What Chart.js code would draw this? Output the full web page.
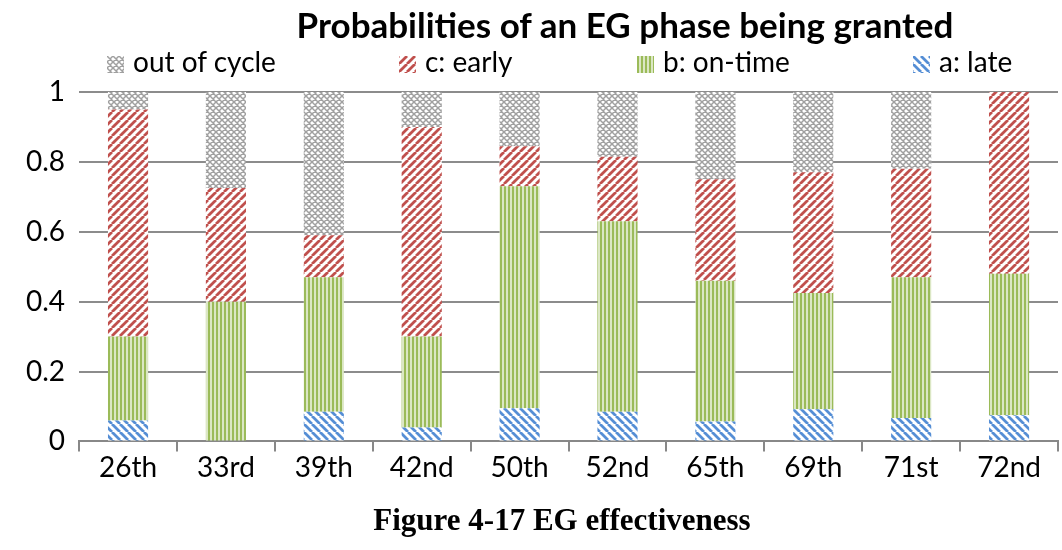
<!DOCTYPE html>
<html>
<head>
<meta charset="utf-8">
<script src="https://cdn.jsdelivr.net/npm/chart.js@4"></script>
<style>
  html, body { margin: 0; padding: 0; background: #fff; }
  #wrap { position: relative; width: 1062px; height: 550px; }
  #title { position: absolute; left: 225px; width: 800px; top: 3px; text-align: center;
    font: bold 35px Lato, sans-serif; color: #000; white-space: nowrap; }
  #caption { position: absolute; left: 262px; width: 600px; top: 502px; text-align: center;
    font: bold 31px "Liberation Serif", serif; color: #000; }
  .leg { position: absolute; top: 44px; font: 28px Lato, sans-serif; color: #000; white-space: nowrap; }
  .leg span { display: inline-block; width: 17px; height: 17px; margin-right: 9px; vertical-align: -1px; }
</style>
</head>
<body>
<div id="wrap">
  <canvas id="myChart" width="1062" height="550"></canvas>
  <div id="title">Probabilities of an EG phase being granted</div>
  <div id="legend"></div>
  <div id="caption">Figure 4-17 EG effectiveness</div>
</div>
<script>
var categories = ["26th", "33rd", "39th", "42nd", "50th", "52nd", "65th", "69th", "71st", "72nd"];

// stacked segments, bottom to top
var late = [0.06, 0, 0.085, 0.04, 0.095, 0.085, 0.057, 0.092, 0.067, 0.075];
var onTime = [0.24, 0.40, 0.385, 0.26, 0.635, 0.545, 0.403, 0.333, 0.403, 0.405];
var early = [0.65, 0.325, 0.12, 0.60, 0.115, 0.185, 0.29, 0.345, 0.31, 0.52];
var outOfCycle = [0.05, 0.275, 0.41, 0.10, 0.155, 0.185, 0.25, 0.23, 0.22, 0];

function makeTile(size, draw) {
  var c = document.createElement("canvas");
  c.width = size;
  c.height = size;
  var ctx = c.getContext("2d");
  ctx.fillStyle = "#fff";
  ctx.fillRect(0, 0, size, size);
  draw(ctx, size);
  return c;
}

function diag(color, up) {
  return makeTile(8, function (ctx, s) {
    ctx.strokeStyle = color;
    ctx.lineWidth = 2.8;
    ctx.beginPath();
    for (var k = -1; k <= 1; k++) {
      if (up) {
        ctx.moveTo(k * s, s);
        ctx.lineTo(k * s + s, 0);
      } else {
        ctx.moveTo(k * s, 0);
        ctx.lineTo(k * s + s, s);
      }
    }
    ctx.stroke();
  });
}

var tiles = {
  red: diag("#c0504d", true),
  blue: diag("#558ed5", false),
  green: makeTile(4, function (ctx, s) {
    ctx.fillStyle = "#dbe7c4";
    ctx.fillRect(0, 0, s, s);
    ctx.fillStyle = "#9bbb59";
    ctx.fillRect(0, 0, 2, s);
  }),
  gray: makeTile(6, function (ctx, s) {
    ctx.strokeStyle = "#a0a0a0";
    ctx.lineWidth = 1.5;
    ctx.beginPath();
    for (var k = -1; k <= 1; k++) {
      ctx.moveTo(k * s, 0);
      ctx.lineTo(k * s + s, s);
      ctx.moveTo(k * s, s);
      ctx.lineTo(k * s + s, 0);
    }
    ctx.stroke();
  }),
};

var mainCtx = document.getElementById("myChart").getContext("2d");
function pattern(name) {
  return mainCtx.createPattern(tiles[name], "repeat");
}

// legend in the same order and spread as the original
var legendItems = [
  { label: "out of cycle", tile: "gray", left: 107 },
  { label: "c: early", tile: "red", left: 399 },
  { label: "b: on-time", tile: "green", left: 637 },
  { label: "a: late", tile: "blue", left: 913 },
];
var legendDiv = document.getElementById("legend");
legendItems.forEach(function (it) {
  var d = document.createElement("div");
  d.className = "leg";
  d.style.left = it.left + "px";
  var sw = document.createElement("span");
  sw.style.backgroundImage = "url(" + tiles[it.tile].toDataURL() + ")";
  d.appendChild(sw);
  d.appendChild(document.createTextNode(it.label));
  legendDiv.appendChild(d);
});

var data = {
  labels: categories,
  datasets: [
    { label: "a: late", data: late, backgroundColor: pattern("blue") },
    { label: "b: on-time", data: onTime, backgroundColor: pattern("green") },
    { label: "c: early", data: early, backgroundColor: pattern("red") },
    { label: "out of cycle", data: outOfCycle, backgroundColor: pattern("gray") },
  ],
};

var config = {
  type: "bar",
  data: data,
  options: {
    responsive: false,
    animation: false,
    layout: { padding: { top: 92, left: 12, right: 4, bottom: 65 } },
    datasets: {
      bar: { categoryPercentage: 1, barPercentage: 0.41, borderWidth: 0 },
    },
    plugins: {
      title: { display: false },
      tooltip: { enabled: false },
      legend: { display: false },
    },
    scales: {
      x: {
        stacked: true,
        grid: { offset: true, drawOnChartArea: false, color: "#888", lineWidth: 2, tickLength: 10 },
        border: { color: "#888", width: 2 },
        ticks: { font: { family: "Lato", size: 28 }, color: "#000", padding: 0 },
      },
      y: {
        stacked: true,
        min: 0,
        max: 1,
        ticks: {
          stepSize: 0.2,
          font: { family: "Lato", size: 28 },
          color: "#000",
          padding: 14,
          callback: function (v) { return String(Math.round(v * 10) / 10); },
        },
        grid: { color: "#8c8c8c", lineWidth: 2, drawTicks: false },
        border: { display: false },
      },
    },
  },
};

var myChart = new Chart(document.getElementById("myChart"), config);
</script>
</body>
</html>
